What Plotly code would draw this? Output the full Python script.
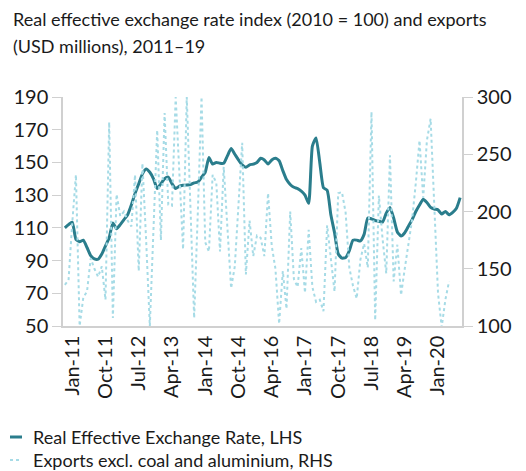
import plotly.graph_objects as go

# ---- data ----
reer = [110, 112, 113.5, 103, 101.5, 102.5, 98, 93, 91, 90.8,
        94, 99, 104, 113, 109.5, 112, 115, 118, 124, 131,
        137, 143, 146, 144, 140, 134, 137, 140, 141, 137,
        134, 135.5, 136, 136.2, 136.5, 137.5, 138, 141, 144, 153,
        149, 150, 149.5, 149.5, 154, 158.5, 155, 151.5, 148.5, 147,
        148.5, 149, 150, 152.5, 151.5, 149, 151.5, 152.5, 151, 145,
        139.5, 136.5, 134.8, 134, 132.5, 130, 125, 160, 165, 150,
        134.5, 133, 118, 107, 94, 91.5, 91.8, 96, 102.5, 102.5,
        102, 106, 116, 115.5, 114.5, 114, 113.5, 119, 122.5, 116,
        107.5, 105, 107, 111, 115, 120, 124, 127.5, 125.5, 122.5,
        121.5, 121, 118.5, 120, 118, 119.5, 122, 128.5]

exports = [136, 140, 190, 232, 100, 125, 130, 159, 150, 143,
           152, 123, 278, 107, 215, 196, 200, 192, 187, 232,
           148, 242, 175, 100, 185, 271, 175, 286, 206, 205,
           300, 230, 167, 300, 200, 107, 200, 300, 173, 165,
           232, 225, 165, 239, 186, 133, 152, 205, 260, 145,
           192, 161, 179, 177, 161, 216, 170, 150, 102, 148,
           115, 200, 141, 134, 168, 129, 184, 134, 121, 123,
           113, 188, 160, 130, 216, 217, 199, 151, 135, 124,
           158, 172, 151, 287, 105, 214, 176, 146, 249, 139,
           171, 127, 150, 170, 193, 225, 262, 212, 262, 281,
           199, 129, 99, 123, 139, None, None, None]

tick_positions = [2, 11, 20, 29, 38, 47, 56, 65, 74, 83, 92, 101]
tick_labels = ["Jan-11", "Oct-11", "Jul-12", "Apr-13", "Jan-14", "Oct-14",
               "Apr-16", "Jan-17", "Oct-17", "Jul-18", "Apr-19", "Jan-20"]

x = list(range(len(reer)))

title_lines = ["Real effective exchange rate index (2010 = 100) and exports",
               "(USD millions), 2011–19"]
series_names = ["Real Effective Exchange Rate, LHS",
                "Exports excl. coal and aluminium, RHS"]

FONT = "Lato"
TXT = "#1a1a1a"
AXC = "#d0d0d0"
C_REER = "#2a7d8c"
C_EXP = "#a6dbe6"

# the page places the figure 8px in from the top-left corner
OFF = 8
W, H = 526 - OFF, 471 - OFF
L, R, T, B = 63 - OFF, 64, 97 - OFF, 145
PW, PH = W - L - R, H - T - B


def px(xp):
    """reference-picture x pixel -> paper coordinate"""
    return (xp - OFF - L) / PW


def py(yp):
    """reference-picture y pixel -> paper coordinate"""
    return (H - B - (yp - OFF)) / PH


fig = go.Figure()
fig.add_trace(go.Scatter(
    x=x, y=exports, name=series_names[1],
    yaxis="y2", mode="lines",
    line=dict(color=C_EXP, width=2, dash="dot"),
))
fig.add_trace(go.Scatter(
    x=x, y=reer, name=series_names[0],
    mode="lines",
    line=dict(color=C_REER, width=3, shape="spline", smoothing=0.5),
))

fig.update_layout(
    width=W, height=H,
    margin=dict(l=L, r=R, t=T, b=B, autoexpand=False),
    paper_bgcolor="white", plot_bgcolor="white",
    font=dict(family=FONT, color=TXT),
    showlegend=False,
    xaxis=dict(range=[-0.5, len(reer) - 0.5], tickmode="array",
               tickvals=tick_positions, ticktext=tick_labels,
               tickangle=-90, showline=True, linecolor=AXC, linewidth=1.5,
               ticks="", showgrid=False, zeroline=False, automargin=False,
               tickfont=dict(size=20, color=TXT)),
    yaxis=dict(range=[50, 190], dtick=20, tick0=50, showline=True,
               linecolor=AXC, linewidth=1.5, ticks="outside", ticklen=9,
               tickcolor=AXC, showgrid=False, zeroline=False, automargin=False,
               tickfont=dict(size=20, color=TXT)),
    yaxis2=dict(range=[100, 300], dtick=50, tick0=100, overlaying="y",
                side="right", showline=True, linecolor=AXC, linewidth=1.5,
                ticks="outside", ticklen=9, tickcolor=AXC, showgrid=False,
                zeroline=False, automargin=False,
                tickfont=dict(size=20, color=TXT)),
)

# title
for line, yy in zip(title_lines, [19, 46]):
    fig.add_annotation(text=line, xref="paper", yref="paper",
                       x=px(11), y=py(yy), xanchor="left", yanchor="middle",
                       showarrow=False,
                       font=dict(size=18, color=TXT, family=FONT))

# manual legend
leg_y = [437, 460]
leg_style = [dict(color=C_REER, width=3), dict(color=C_EXP, width=2, dash="dot")]
for name, yy, st in zip(series_names, leg_y, leg_style):
    fig.add_shape(type="line", xref="paper", yref="paper",
                  x0=px(10), x1=px(22), y0=py(yy), y1=py(yy), line=st)
    fig.add_annotation(text=name, xref="paper", yref="paper",
                       x=px(31), y=py(yy), xanchor="left", yanchor="middle",
                       showarrow=False,
                       font=dict(size=18, color=TXT, family=FONT))

fig.write_html("out.html")
